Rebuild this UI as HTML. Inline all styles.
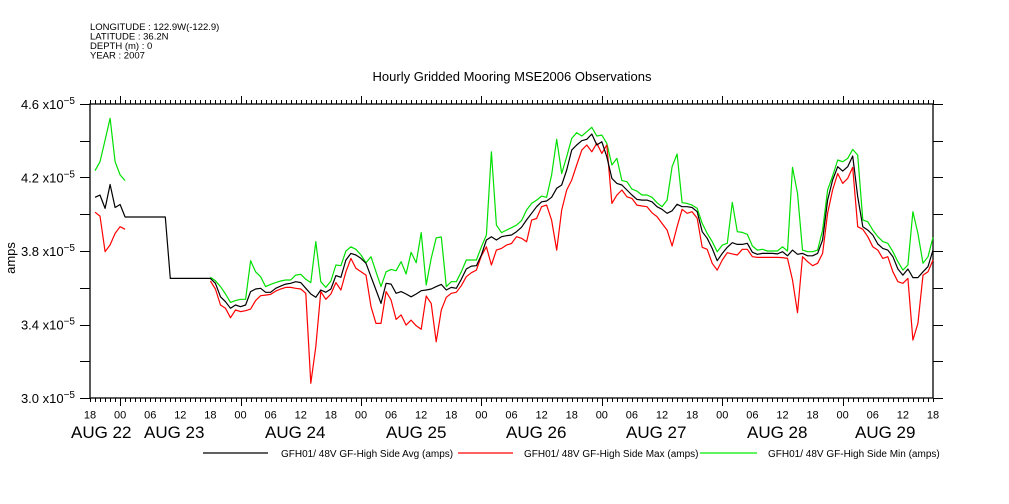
<!DOCTYPE html>
<html><head><meta charset="utf-8"><title>Hourly Gridded Mooring MSE2006 Observations</title>
<style>
html,body{margin:0;padding:0;background:#fff;}
svg{display:block;font-family:"Liberation Sans",sans-serif;}
</style></head>
<body>
<svg id="chart" width="1009" height="504" viewBox="0 0 1009 504" xmlns="http://www.w3.org/2000/svg">
<rect x="0" y="0" width="1009" height="504" fill="#fff"/>
<g font-size="9.5" fill="#000">
<text x="90" y="30">LONGITUDE : 122.9W(-122.9)</text>
<text x="90" y="39.5">LATITUDE : 36.2N</text>
<text x="90" y="49">DEPTH (m) : 0</text>
<text x="90" y="58.5">YEAR : 2007</text>
</g>
<text x="512" y="81" text-anchor="middle" font-size="13">Hourly Gridded Mooring MSE2006 Observations</text>
<text transform="translate(15,258) rotate(-90)" text-anchor="middle" font-size="13">amps</text>
<g id="axes"></g>
<g id="series"></g>
<g font-size="10">
<line x1="203" y1="453" x2="268" y2="453" stroke="#000" stroke-width="1.2"/>
<text x="281" y="457">GFH01/ 48V GF-High Side Avg (amps)</text>
<line x1="458" y1="453" x2="513" y2="453" stroke="#f00" stroke-width="1.2"/>
<text x="524" y="457">GFH01/ 48V GF-High Side Max (amps)</text>
<line x1="700" y1="453" x2="757" y2="453" stroke="#0e0" stroke-width="1.2"/>
<text x="768" y="457">GFH01/ 48V GF-High Side Min (amps)</text>
</g>
</svg>
<script>
// hours since 18:00 Aug 21, starting at hour 1
const startHour = 1;
const yTickValues = [3.0, 3.2, 3.4, 3.6, 3.8, 4.0, 4.2, 4.4, 4.6];
const yLabelValues = ["4.6", "4.2", "3.8", "3.4", "3.0"];
const hourLabels = ["18", "00", "06", "12"];
const dayLabels = ["AUG 22", "AUG 23", "AUG 24", "AUG 25", "AUG 26", "AUG 27", "AUG 28", "AUG 29"];
const dayLabelX = [71, 144, 265, 386, 506, 626, 747, 855];

const avgValues = [4.092,4.104,4.032,4.162,4.037,4.053,3.985,
3.985,3.985,3.985,3.985,3.985,3.985,3.985,3.985,
3.651,3.651,3.651,3.651,3.651,3.651,3.651,3.651,
3.651,3.624,3.551,3.524,3.488,3.506,3.497,3.506,3.579,3.593,3.597,3.575,3.575,3.597,3.609,3.620,3.624,3.633,3.628,3.597,3.566,3.548,3.588,3.575,3.593,3.666,3.657,3.751,3.787,3.778,3.760,3.733,3.660,3.588,3.515,3.624,3.620,3.570,3.579,3.566,3.551,3.566,3.584,3.588,3.593,3.606,3.618,3.588,3.602,3.597,3.646,3.702,3.718,3.720,3.778,3.860,3.878,3.860,3.878,3.883,3.887,3.905,3.929,
3.969,4.005,4.041,4.068,4.072,4.092,4.141,4.159,4.241,4.349,4.377,4.400,4.408,4.437,4.377,4.395,4.313,4.195,4.168,4.159,4.132,4.105,4.081,4.077,4.077,4.068,4.041,4.027,4.005,4.019,4.054,4.041,4.041,4.037,4.014,3.905,3.869,3.814,3.747,3.787,3.820,3.845,3.836,3.836,3.842,3.793,3.782,3.787,3.787,3.787,3.784,3.796,3.774,3.805,3.782,3.787,3.774,3.774,3.787,3.860,4.077,4.186,4.259,4.235,4.259,4.317,4.096,3.932,3.914,3.887,3.838,3.814,3.805,3.769,3.702,3.669,3.702,3.655,3.655,3.687,3.715,3.805];

const greenValues = [4.237,4.286,4.404,4.522,4.286,4.214,4.183,
null,null,null,null,null,null,null,null,null,null,null,null,null,null,null,null,
3.657,3.638,3.606,3.566,3.520,3.530,3.537,3.537,3.747,3.687,3.660,3.606,3.618,3.628,3.637,3.642,3.642,3.669,3.673,3.646,3.628,3.851,3.633,3.602,3.637,3.724,3.720,3.800,3.823,3.809,3.778,3.736,3.769,3.687,3.606,3.687,3.700,3.693,3.742,3.675,3.793,3.736,3.900,3.615,3.760,3.872,3.876,3.606,3.633,3.633,3.687,3.751,3.751,3.751,3.823,3.887,4.340,3.941,3.900,3.914,3.927,3.941,3.965,
4.023,4.059,4.077,4.099,4.092,4.213,4.408,4.222,4.313,4.413,4.444,4.426,4.449,4.473,4.426,4.431,4.386,4.268,4.304,4.183,4.177,4.137,4.126,4.105,4.105,4.092,4.063,4.041,4.077,4.259,4.328,4.063,4.059,4.050,4.032,3.950,3.896,3.851,3.796,3.832,3.842,4.065,3.905,3.901,3.891,3.827,3.805,3.809,3.800,3.800,3.800,3.823,3.800,4.255,4.114,3.805,3.796,3.796,3.805,3.914,4.132,4.208,4.295,4.286,4.304,4.353,4.322,3.969,3.959,3.914,3.878,3.851,3.842,3.796,3.742,3.696,3.724,4.014,3.896,3.733,3.769,3.874];

const redValues = [4.011,3.990,3.796,3.833,3.896,3.932,3.918,
null,null,null,null,null,null,null,null,null,null,null,null,null,null,null,null,
3.637,3.593,3.506,3.488,3.437,3.479,3.470,3.475,3.484,3.530,3.557,3.560,3.564,3.582,3.593,3.602,3.602,3.597,3.593,3.570,3.080,3.279,3.579,3.537,3.566,3.628,3.588,3.687,3.760,3.706,3.687,3.669,3.497,3.406,3.406,3.579,3.533,3.428,3.452,3.397,3.424,3.393,3.374,3.555,3.515,3.306,3.479,3.548,3.570,3.575,3.611,3.660,3.682,3.696,3.774,3.823,3.724,3.805,3.814,3.832,3.841,3.878,3.869,
3.850,3.968,3.977,4.041,4.050,3.968,3.805,4.023,4.132,4.186,4.268,4.349,4.377,4.340,4.386,4.331,4.377,4.059,4.104,4.132,4.095,4.086,4.050,4.045,4.041,
4.008,3.987,3.950,3.914,3.827,3.932,4.027,4.005,4.014,3.978,3.820,3.809,3.733,3.696,3.751,3.791,3.784,3.778,3.809,3.809,3.769,3.765,3.765,3.765,3.765,3.765,3.764,3.760,3.642,3.464,3.769,3.742,3.720,3.733,3.787,4.005,4.132,4.222,4.168,4.195,4.255,3.932,3.918,3.878,3.823,3.805,3.760,3.769,3.687,3.633,3.624,3.651,3.315,3.406,3.669,3.687,3.751];

const NS = "http://www.w3.org/2000/svg";
const X0 = 90, X1 = 933, Y0 = 104, Y1 = 398, HOURS = 168, VMIN = 3.0, VMAX = 4.6;
function xs(h){ return X0 + h * (X1 - X0) / HOURS; }
function ys(v){ return Y1 - (v - VMIN) / (VMAX - VMIN) * (Y1 - Y0); }
function mk(tag, attrs, parent){
  const el = document.createElementNS(NS, tag);
  for (const k in attrs) el.setAttribute(k, attrs[k]);
  parent.appendChild(el);
  return el;
}
const axes = document.getElementById('axes');
const frame = mk('rect', {x:X0, y:Y0, width:X1-X0, height:Y1-Y0, fill:'none', stroke:'#000', 'stroke-width':1.3}, axes);


for (let h = 0; h <= HOURS; h++) {
  const x = Math.round(xs(h)) + 0.5;
  const major = (h - 6) % 24 === 0;
  const len = major ? 8 : 4;
  const tb = mk('line', {x1:x, y1:Y1, x2:x, y2:Y1+len, stroke:'#000', 'stroke-width':1}, axes);
  
  
  const tt = mk('line', {x1:x, y1:Y0, x2:x, y2:Y0-len, stroke:'#000', 'stroke-width':1}, axes);
  
  
  if (h % 6 === 0) {
    const t = mk('text', {x:xs(h), y:418.5, 'text-anchor':'middle', 'font-size':11}, axes);
    t.textContent = hourLabels[(h / 6) % 4];
    
    
  }
}
dayLabels.forEach((d, i) => {
  const t = mk('text', {x:dayLabelX[i], y:438, 'font-size':17}, axes);
  t.textContent = d;
  
  
});
yTickValues.forEach(v => {
  const y = Math.round(ys(v)) + 0.5;
  const l = mk('line', {x1:X0-10, y1:y, x2:X0, y2:y, stroke:'#000', 'stroke-width':1}, axes);
  
  
  const r = mk('line', {x1:X1, y1:y, x2:X1+10, y2:y, stroke:'#000', 'stroke-width':1}, axes);
  
  
});
yLabelValues.forEach(s => {
  const y = ys(parseFloat(s));
  const t = mk('text', {x:75, y:y+5, 'text-anchor':'end', 'font-size':13}, axes);
  
  
  const a = document.createElementNS(NS, 'tspan');
  a.textContent = s + ' x10';
  t.appendChild(a);
  const b = document.createElementNS(NS, 'tspan');
  b.setAttribute('dy', '-5');
  b.setAttribute('font-size', '10');
  b.textContent = '\u22125';
  t.appendChild(b);
});
const sg = document.getElementById('series');
function drawSeries(vals, color, name){
  let segs = [], cur = [];
  vals.forEach((v, i) => {
    if (v === null) { if (cur.length) segs.push(cur); cur = []; }
    else cur.push(xs(startHour + i).toFixed(1) + ',' + ys(v).toFixed(1));
  });
  if (cur.length) segs.push(cur);
  segs.forEach(s => {
    const p = mk('polyline', {points:s.join(' '), fill:'none', stroke:color, 'stroke-width':1.2, 'stroke-linejoin':'round'}, sg);
    
    
  });
}
drawSeries(greenValues, '#00e000', 'series-green-line');
drawSeries(redValues, '#ff0000', 'series-red-line');
drawSeries(avgValues, '#000000', 'series-avg-line');
</script>
</body></html>
